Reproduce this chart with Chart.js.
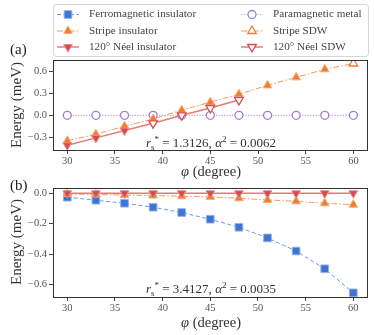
<!DOCTYPE html>
<html>
<head>
<meta charset="utf-8">
<script src="https://cdn.jsdelivr.net/npm/chart.js@4.4.1/dist/chart.umd.min.js"></script>
<style>
    body { margin: 0; background: #fff; }
    #wrap { position: relative; width: 374px; height: 335px; overflow: hidden; font-family: "Liberation Serif", serif; color: #333; }
    canvas { position: absolute; left: 0; }
    .txt { position: absolute; white-space: nowrap; line-height: 1; }
    .leg { font-size: 11.2px; color: #444; }
    .panel { font-size: 15px; color: #222; }
    .xt { font-size: 14.5px; transform: translate(-50%, -50%); color: #333; }
    .yt { font-size: 15px; transform: translate(-50%, -50%) rotate(-90deg); color: #333; }
    .note { font-size: 13px; transform: translate(-50%, -50%); color: #333; }
    .note sub, .note sup { font-size: 9px; position: relative; vertical-align: baseline; }
    .note sub { top: 3px; }
    .note sup { top: -5px; }
</style>
</head>
<body>
<div id="wrap">
    <canvas id="chartA" width="374" height="180" style="top:0;width:374px;height:180px"></canvas>
    <canvas id="chartB" width="374" height="155" style="top:180px;width:374px;height:155px"></canvas>

    <div class="txt leg" style="left:89px;top:8px">Ferromagnetic insulator</div>
    <div class="txt leg" style="left:89px;top:25px">Stripe insulator</div>
    <div class="txt leg" style="left:89px;top:41px">120° Néel insulator</div>
    <div class="txt leg" style="left:273px;top:8px">Paramagnetic metal</div>
    <div class="txt leg" style="left:273px;top:25px">Stripe SDW</div>
    <div class="txt leg" style="left:273px;top:41px">120° Néel SDW</div>

    <div class="txt panel" style="left:10px;top:42px">(a)</div>
    <div class="txt panel" style="left:10px;top:178px">(b)</div>

    <div class="txt yt" style="left:16px;top:105px">Energy (meV)</div>
    <div class="txt yt" style="left:16px;top:242px">Energy (meV)</div>
    <div class="txt xt" style="left:211px;top:171px"><i>φ</i> (degree)</div>
    <div class="txt xt" style="left:211px;top:322px"><i>φ</i> (degree)</div>

    <div class="txt note" style="left:211px;top:142px"><i>r</i><sub>s</sub><sup>*</sup> = 1.3126, <i>α</i><sup>2</sup> = 0.0062</div>
    <div class="txt note" style="left:211px;top:288px"><i>r</i><sub>s</sub><sup>*</sup> = 3.4127, <i>α</i><sup>2</sup> = 0.0035</div>
</div>
<script>
    // twist angle (degree)
    const phi = [30, 33, 36, 39, 42, 45, 48, 51, 54, 57, 60];
    const xTicks = [30, 35, 40, 45, 50, 55, 60];
    const yTicksA = [-0.3, 0.0, 0.3, 0.6];
    const yTicksB = [-0.6, -0.4, -0.2, 0.0];

    // panel (a), energies in meV; I = insulator, S = SDW / metal
    const paraA = [0, 0, 0, 0, 0, 0, 0, 0, 0, 0, 0];
    const stripeA = [-0.35, -0.26, -0.15, -0.05, 0.07, 0.18, 0.29, 0.41, 0.52, 0.63, 0.71];
    const stripeKindA = ['I', 'I', 'I', 'I', 'I', 'I', 'I', 'I', 'I', 'I', 'S'];
    const neelA = [-0.41, -0.31, -0.21, -0.11, 0.0, 0.10, 0.21];
    const neelKindA = ['I', 'I', 'I', 'S', 'S', 'S', 'S'];

    // panel (b)
    const ferroB = [-0.026, -0.046, -0.066, -0.092, -0.127, -0.171, -0.224, -0.294, -0.38, -0.497, -0.655];
    const stripeB = [-0.005, -0.008, -0.012, -0.015, -0.02, -0.024, -0.033, -0.044, -0.053, -0.066, -0.075];
    const neelB = [0, 0, 0, 0, 0, 0, 0, 0, 0, 0, 0];

    const BLUE = { color: '#3e74d2', edge: '#8fb0ea', line: '#6f97e0', shape: 'rect', rot: 0, r: 5.4, dash: [4, 2.5], width: 1 };
    const ORANGE = { color: '#f07d2e', edge: '#f6ad78', line: '#f39a5e', shape: 'triangle', rot: 0, r: 5, dash: [6, 2, 1.5, 2], width: 1 };
    const RED = { color: '#d94b4b', edge: '#e88a8a', line: '#e47b7b', shape: 'triangle', rot: 180, r: 5, dash: [], width: 1.5 };
    const PURPLE = { color: '#9a7fd6', edge: '#9a7fd6', line: '#b9a4e4', shape: 'circle', rot: 0, r: 4, dash: [1.2, 1.5], width: 1.2 };

    function series(values, kinds, style, order) {
        return {
            data: values.map(function (v, i) { return { x: phi[i], y: v }; }),
            borderColor: style.line,
            borderWidth: style.width,
            borderDash: style.dash,
            tension: 0,
            fill: false,
            order: order,
            pointStyle: style.shape,
            pointRotation: style.rot,
            pointRadius: style.r,
            pointBorderWidth: kinds.map(function (k) { return k === 'S' ? 1.3 : 1; }),
            pointBackgroundColor: kinds.map(function (k) { return k === 'S' ? '#ffffff' : style.color; }),
            pointBorderColor: kinds.map(function (k) { return k === 'S' ? style.color : style.edge; })
        };
    }

    function allOf(values, kind) {
        return values.map(function () { return kind; });
    }

    function fmtY(v) {
        const s = Math.abs(v).toFixed(1);
        return v < -1e-9 ? '\u2212' + s : s;
    }

    const tickFont = { family: 'Liberation Serif', size: 10.5 };

    const frame = {
        id: 'frame',
        afterDraw: function (chart) {
            const a = chart.chartArea;
            const ctx = chart.ctx;
            ctx.save();
            ctx.strokeStyle = '#333';
            ctx.lineWidth = 1;
            ctx.strokeRect(Math.round(a.left) + 0.5, Math.round(a.top) + 0.5,
                Math.round(a.right - a.left) - 1, Math.round(a.bottom - a.top));
            ctx.restore();
        }
    };

    function drawMarker(ctx, shape, x, y, r, rot, fill, stroke, lw) {
        ctx.save();
        ctx.beginPath();
        if (shape === 'rect') {
            const s = r * Math.SQRT1_2;
            ctx.rect(x - s, y - s, 2 * s, 2 * s);
        } else if (shape === 'triangle') {
            let a = rot * Math.PI / 180;
            for (let i = 0; i < 3; i++) {
                const px = x + Math.sin(a) * r;
                const py = y - Math.cos(a) * r;
                if (i === 0) ctx.moveTo(px, py); else ctx.lineTo(px, py);
                a += 2 * Math.PI / 3;
            }
            ctx.closePath();
        } else {
            ctx.arc(x, y, r, 0, Math.PI * 2);
        }
        ctx.fillStyle = fill;
        ctx.fill();
        ctx.lineWidth = lw;
        ctx.strokeStyle = stroke;
        ctx.stroke();
        ctx.restore();
    }

    const legendItems = [
        { style: BLUE, open: false, x: 57, y: 14.5 },
        { style: ORANGE, open: false, x: 57, y: 31 },
        { style: RED, open: false, x: 57, y: 47 },
        { style: PURPLE, open: true, x: 241, y: 14.5 },
        { style: ORANGE, open: true, x: 241, y: 31 },
        { style: RED, open: true, x: 241, y: 47 }
    ];

    const legendBox = {
        id: 'legendBox',
        afterDraw: function (chart) {
            const ctx = chart.ctx;
            ctx.save();
            ctx.beginPath();
            ctx.roundRect(53.5, 4.5, 315, 52, 3);
            ctx.fillStyle = 'rgba(255,255,255,0.9)';
            ctx.fill();
            ctx.strokeStyle = '#d6d6d6';
            ctx.lineWidth = 1;
            ctx.stroke();
            legendItems.forEach(function (it) {
                const s = it.style;
                ctx.beginPath();
                ctx.setLineDash(s.dash);
                ctx.strokeStyle = s.line;
                ctx.lineWidth = s.width;
                ctx.moveTo(it.x, it.y);
                ctx.lineTo(it.x + 22, it.y);
                ctx.stroke();
                ctx.setLineDash([]);
                drawMarker(ctx, s.shape, it.x + 11, it.y, s.r, s.rot,
                    it.open ? '#fff' : s.color, it.open ? s.color : s.edge, it.open ? 1.3 : 1);
            });
            ctx.restore();
        }
    };

    function makeOptions(yMin, yMax, yTicks, padTop, xHeight) {
        return {
            responsive: false,
            animation: false,
            devicePixelRatio: 1,
            events: [],
            layout: { padding: { top: padTop, right: 5, bottom: 0, left: 0 } },
            plugins: { legend: { display: false }, tooltip: { enabled: false } },
            scales: {
                x: {
                    type: 'linear',
                    min: 28.5,
                    max: 61.5,
                    afterBuildTicks: function (scale) {
                        scale.ticks = xTicks.map(function (v) { return { value: v }; });
                    },
                    afterFit: function (scale) { scale.height = xHeight; },
                    ticks: { color: '#555', font: tickFont, padding: 1, maxRotation: 0,
                        callback: function (v) { return String(v); } },
                    grid: { drawOnChartArea: false, drawTicks: true, tickLength: 4, tickColor: '#444' },
                    border: { display: true, color: '#333', width: 1 }
                },
                y: {
                    type: 'linear',
                    min: yMin,
                    max: yMax,
                    afterBuildTicks: function (scale) {
                        scale.ticks = yTicks.map(function (v) { return { value: v }; });
                    },
                    afterFit: function (scale) { scale.width = 53; },
                    ticks: { color: '#555', font: tickFont, padding: 2, callback: fmtY },
                    grid: { drawOnChartArea: false, drawTicks: true, tickLength: 4, tickColor: '#444' },
                    border: { display: true, color: '#333', width: 1 }
                }
            }
        };
    }

    new Chart(document.getElementById('chartA'), {
        type: 'line',
        data: {
            datasets: [
                series(paraA, allOf(paraA, 'S'), PURPLE, 3),
                series(stripeA, stripeKindA, ORANGE, 2),
                series(neelA, neelKindA, RED, 1)
            ]
        },
        options: makeOptions(-0.476, 0.758, yTicksA, 60, 30),
        plugins: [frame, legendBox]
    });

    new Chart(document.getElementById('chartB'), {
        type: 'line',
        data: {
            datasets: [
                series(ferroB, allOf(ferroB, 'I'), BLUE, 3),
                series(stripeB, allOf(stripeB, 'I'), ORANGE, 2),
                series(neelB, allOf(neelB, 'I'), RED, 1)
            ]
        },
        options: makeOptions(-0.6825, 0.0325, yTicksB, 7, 38),
        plugins: [frame]
    });
</script>
</body>
</html>
